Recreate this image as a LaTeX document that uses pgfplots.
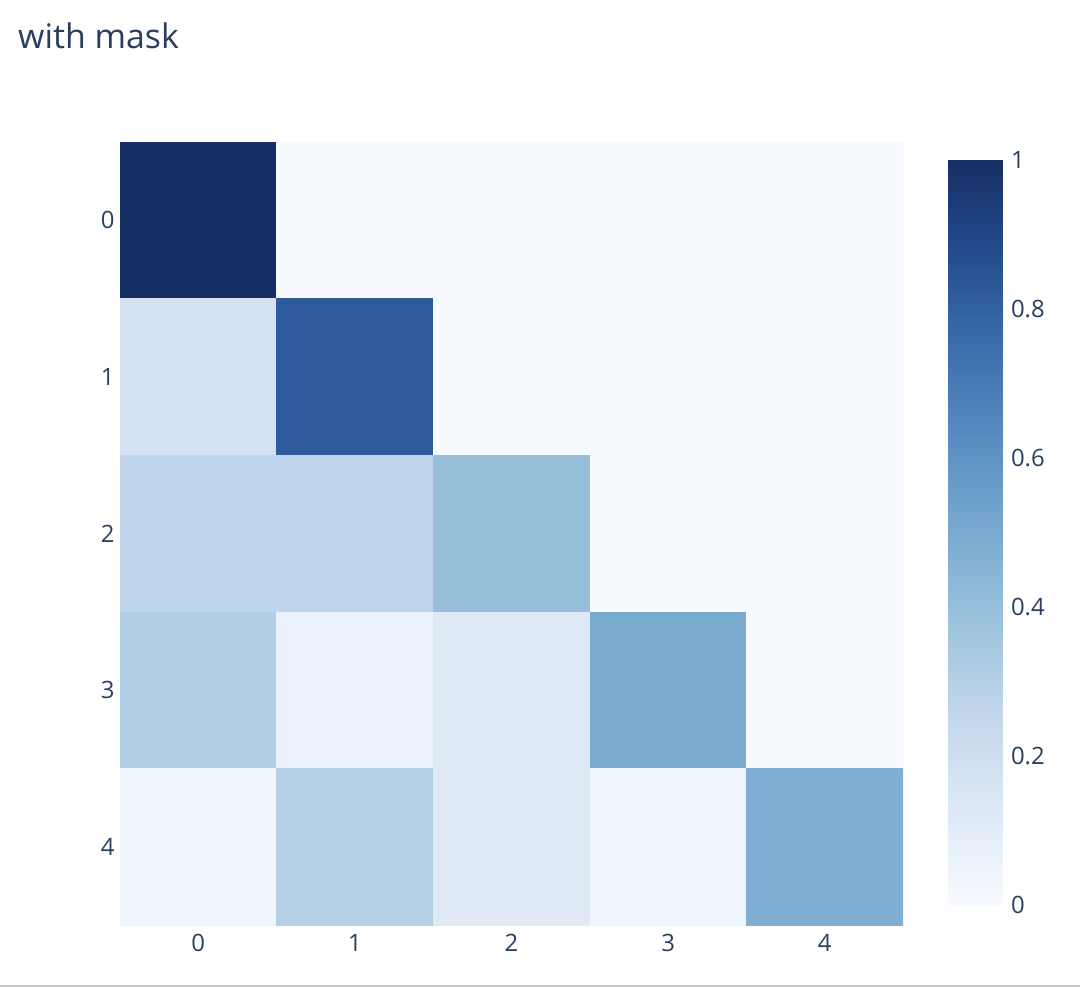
\documentclass[border=0pt]{standalone}
\usepackage{fontspec}
\setmainfont{Open Sans}
\usepackage{pgfplots}
\pgfplotsset{compat=1.18}
\definecolor{txt}{RGB}{42,63,95}

\pgfplotstableread{
x y C
0 0 1.00
1 0 0
2 0 0
3 0 0
4 0 0
0 1 0.18
1 1 0.82
2 1 0
3 1 0
4 1 0
0 2 0.27
1 2 0.27
2 2 0.40
3 2 0
4 2 0
0 3 0.31
1 3 0.06
2 3 0.12
3 3 0.50
4 3 0
0 4 0.04
1 4 0.30
2 4 0.12
3 4 0.04
4 4 0.48
}\masked

\begin{document}
\begin{tikzpicture}
\path[use as bounding box] (0bp,0bp) rectangle (1080bp,987bp);
\node[anchor=base west, text=txt, inner sep=0pt, font=\fontsize{34}{40}\selectfont] at (18bp,938bp) {with mask};
\draw[line width=2bp, color={rgb,255:red,200;green,200;blue,200}] (0bp,1bp) -- (1080bp,1bp);
\begin{axis}[
  at={(120bp,62bp)}, anchor=south west,
  width=783bp, height=783bp, scale only axis,
  xmin=-0.5, xmax=4.5, ymin=-0.5, ymax=4.5,
  y dir=reverse,
  enlargelimits=false,
  axis line style={draw=none},
  major tick length=0pt,
  xtick={0,1,2,3,4}, ytick={0,1,2,3,4},
  /pgf/number format/assume math mode=true,
  tick label style={text=txt, font=\fontsize{24}{28}\selectfont},
  xticklabel style={yshift=-6bp},
  yticklabel style={xshift=-2bp},
  point meta min=0, point meta max=1,
  colormap={blues}{rgb255=(247,251,255) rgb255=(222,233,246) rgb255=(196,215,236) rgb255=(158,196,222) rgb255=(121,170,208) rgb255=(88,142,193) rgb255=(58,110,172) rgb255=(36,76,142) rgb255=(22,47,100)},
  colorbar right,
  colorbar/width=54bp,
  colorbar style={
    at={(parent axis.north east)}, anchor=north west,
    xshift=37bp, yshift=-18bp,
    height=745bp, scale only axis,
    axis line style={draw=none},
    major tick length=0pt,
    ytick={0,0.2,0.4,0.6,0.8,1},
    /pgf/number format/assume math mode=true,
    yticklabel style={text=txt, font=\fontsize{24}{28}\selectfont, xshift=5bp},
  },
]
\addplot[matrix plot*, mesh/cols=5, point meta=explicit] table[x=x, y=y, meta=C] {\masked};
\end{axis}
\end{tikzpicture}
\end{document}
